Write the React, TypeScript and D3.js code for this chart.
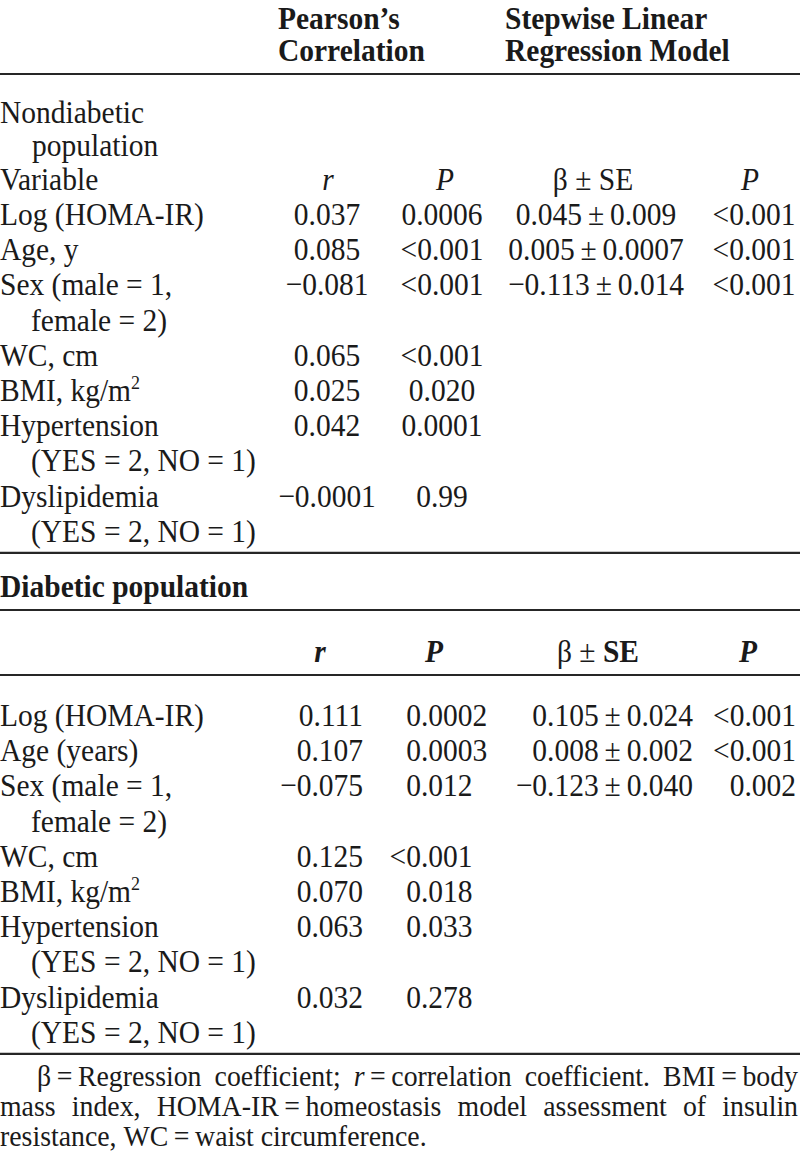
import React, { useMemo } from "react";
import * as d3 from "d3";

const FONT = "'Liberation Serif','Times New Roman',Times,serif";

// ---------- data ----------
const headerPearson = ["Pearson’s", "Correlation"];
const headerStepwise = ["Stepwise Linear", "Regression Model"];
const nonTitle = ["Nondiabetic", "population"];
const diaTitle = "Diabetic population";

const nonLabels: string[][] = [
  ["Log (HOMA-IR)"],
  ["Age, y"],
  ["Sex (male = 1,", "female = 2)"],
  ["WC, cm"],
  ["BMI, kg/m^2"],
  ["Hypertension", "(YES = 2, NO = 1)"],
  ["Dyslipidemia", "(YES = 2, NO = 1)"],
];
const nonR = ["0.037", "0.085", "−0.081", "0.065", "0.025", "0.042", "−0.0001"];
const nonP = ["0.0006", "<0.001", "<0.001", "<0.001", "0.020", "0.0001", "0.99"];
const nonBeta = ["0.045\u2009±\u20090.009", "0.005\u2009±\u20090.0007", "−0.113\u2009±\u20090.014", "", "", "", ""];
const nonBetaP = ["<0.001", "<0.001", "<0.001", "", "", "", ""];

const diaLabels: string[][] = [
  ["Log (HOMA-IR)"],
  ["Age (years)"],
  ["Sex (male = 1,", "female = 2)"],
  ["WC, cm"],
  ["BMI, kg/m^2"],
  ["Hypertension", "(YES = 2, NO = 1)"],
  ["Dyslipidemia", "(YES = 2, NO = 1)"],
];
const diaR = ["0.111", "0.107", "−0.075", "0.125", "0.070", "0.063", "0.032"];
const diaP = ["0.0002", "0.0003", "0.012", "<0.001", "0.018", "0.033", "0.278"];
const diaBeta = ["0.105\u2009±\u20090.024", "0.008\u2009±\u20090.002", "−0.123\u2009±\u20090.040", "", "", "", ""];
const diaBetaP = ["<0.001", "<0.001", "0.002", "", "", "", ""];

const footLine1 = ["β\u2009=\u2009Regression", "coefficient;", "*r*\u2009=\u2009correlation", "coefficient.", "BMI\u2009=\u2009body"];
const footLine2 = ["mass", "index,", "HOMA-IR\u2009=\u2009homeostasis", "model", "assessment", "of", "insulin"];
const footLine3 = ["resistance,", "WC\u2009=\u2009waist", "circumference."];

// ---------- layout ----------
const W = 800;
const H = 1158;
const FS = 29.5;
const FFS = 27.8;
const SY = 1.08;
const FSY = 1.03;
const L = 35.2;

const Y = {
  head1: 29,
  head2: 61,
  rule1: 74,
  nonTitle1: 123,
  nonTitle2: 156,
  variable: 190,
  nonBody: 225,
  diaTitle: 597,
  rule3: 610,
  diaHead: 662,
  rule4: 675,
  diaBody: 726,
  foot: 1086,
  footStep: 30,
};

type Seg = { t: string; i: boolean };
function parseToken(tok: string): Seg[] {
  const parts = tok.split("*");
  return parts.map((t, k) => ({ t, i: k % 2 === 1 })).filter((s) => s.t.length);
}

function T(props: any) {
  const { x, y, anchor = "start", weight, italic, size, sy = SY, children } = props;
  return (
    <text
      transform={`translate(${x},${y}) scale(1,${sy})`}
      textAnchor={anchor}
      fontWeight={weight}
      fontStyle={italic ? "italic" : undefined}
      fontSize={size}
    >
      {children}
    </text>
  );
}

function Label({ x, y, text }: { x: number; y: number; text: string }) {
  const [a, sup] = text.split("^");
  return (
    <T x={x} y={y}>
      {a}
      {sup ? (
        <tspan dy={-11} fontSize={18}>
          {sup}
        </tspan>
      ) : null}
    </T>
  );
}

function Decimal({ x, y, s }: { x: number; y: number; s: string }) {
  const i = s.indexOf(".");
  return (
    <g>
      <T x={x} y={y} anchor="end">{s.slice(0, i)}</T>
      <T x={x} y={y} anchor="start">{s.slice(i)}</T>
    </g>
  );
}

export default function App() {
  const measure = useMemo(() => {
    const c = document.createElement("canvas");
    const ctx = c.getContext("2d")!;
    return (segs: Seg[], size: number) =>
      d3.sum(segs, (s) => {
        ctx.font = `${s.i ? "italic " : ""}${size}px ${FONT}`;
        return ctx.measureText(s.t).width;
      });
  }, []);

  const justify = (tokens: string[], x0: number, x1: number, just: boolean) => {
    const segs = tokens.map(parseToken);
    const widths = segs.map((s) => measure(s, FFS));
    const spaceW = measure([{ t: " ", i: false }], FFS);
    const gap = just ? (x1 - x0 - d3.sum(widths)) / (tokens.length - 1) : spaceW;
    let x = x0;
    return segs.map((s, k) => {
      const pos = x;
      x += widths[k] + gap;
      return { segs: s, x: pos };
    });
  };

  const lineIdx = (labels: string[][]) => {
    let acc = 0;
    return labels.map((l) => {
      const v = acc;
      acc += l.length;
      return v;
    });
  };
  const nonIdx = lineIdx(nonLabels);
  const diaIdx = lineIdx(diaLabels);
  const nLines = d3.sum(nonLabels, (l) => l.length);

  const yNon = d3.scaleLinear().domain([0, 1]).range([Y.nonBody, Y.nonBody + L]);
  const yDia = d3.scaleLinear().domain([0, 1]).range([Y.diaBody, Y.diaBody + L]);
  const rule2 = yNon(nLines - 1) + 11;
  const rule5 = yDia(nLines - 1) + 11;

  const cols = ["r", "p", "b", "bp"];
  const nonCols = d3.scaleOrdinal<string, number>().domain(cols).range([327, 442, 596, 754]);
  const nonHead = d3.scaleOrdinal<string, number>().domain(cols).range([328, 445, 593, 750]);
  const diaHeadX = d3.scaleOrdinal<string, number>().domain(cols).range([320, 434, 598, 748]);
  const diaCols = d3.scaleOrdinal<string, number>().domain(cols).range([363, 421, 693, 796]);

  const f1 = justify(footLine1, 37, 798, true);
  const f2 = justify(footLine2, 0, 798, true);
  const f3 = justify(footLine3, 0, 798, false);

  const rule = (y: number, key: string) => (
    <line key={key} x1={0} x2={W} y1={y} y2={y} stroke="#262626" strokeWidth={2.2} />
  );

  const footRow = (items: { segs: Seg[]; x: number }[], y: number) =>
    items.map((it, k) => (
      <T key={k} x={it.x} y={y} size={FFS} sy={FSY}>
        {it.segs.map((s, j) => (
          <tspan key={j} fontStyle={s.i ? "italic" : undefined}>
            {s.t}
          </tspan>
        ))}
      </T>
    ));

  return (
    <div style={{ position: "absolute", left: 0, top: 0 }}>
      <svg width={W} height={H} style={{ display: "block", background: "#fff" }} fontFamily={FONT} fontSize={FS} fill="#1a1a1a">
        <T x={278} y={Y.head1} weight="bold">{headerPearson[0]}</T>
        <T x={278} y={Y.head2} weight="bold">{headerPearson[1]}</T>
        <T x={505} y={Y.head1} weight="bold">{headerStepwise[0]}</T>
        <T x={505} y={Y.head2} weight="bold">{headerStepwise[1]}</T>
        {rule(Y.rule1, "r1")}

        <T x={0} y={Y.nonTitle1}>{nonTitle[0]}</T>
        <T x={32} y={Y.nonTitle2}>{nonTitle[1]}</T>
        <T x={0} y={Y.variable}>Variable</T>
        <T x={nonHead("r")} y={Y.variable} anchor="middle" italic>r</T>
        <T x={nonHead("p")} y={Y.variable} anchor="middle" italic>P</T>
        <T x={nonHead("b")} y={Y.variable} anchor="middle">β ± SE</T>
        <T x={nonHead("bp")} y={Y.variable} anchor="middle" italic>P</T>

        {nonLabels.map((lab, i) => (
          <g key={"n" + i}>
            {lab.map((t, j) => (
              <Label key={j} x={j === 0 ? 0 : 31} y={yNon(nonIdx[i] + j)} text={t} />
            ))}
            <T x={nonCols("r")} y={yNon(nonIdx[i])} anchor="middle">{nonR[i]}</T>
            <T x={nonCols("p")} y={yNon(nonIdx[i])} anchor="middle">{nonP[i]}</T>
            {nonBeta[i] ? <T x={nonCols("b")} y={yNon(nonIdx[i])} anchor="middle">{nonBeta[i]}</T> : null}
            {nonBetaP[i] ? <T x={nonCols("bp")} y={yNon(nonIdx[i])} anchor="middle">{nonBetaP[i]}</T> : null}
          </g>
        ))}
        {rule(rule2, "r2")}

        <T x={0} y={Y.diaTitle} weight="bold">{diaTitle}</T>
        {rule(Y.rule3, "r3")}
        <T x={diaHeadX("r")} y={Y.diaHead} anchor="middle" italic weight="bold">r</T>
        <T x={diaHeadX("p")} y={Y.diaHead} anchor="middle" italic weight="bold">P</T>
        <T x={diaHeadX("b")} y={Y.diaHead} anchor="middle">
          β ± <tspan fontWeight="bold">SE</tspan>
        </T>
        <T x={diaHeadX("bp")} y={Y.diaHead} anchor="middle" italic weight="bold">P</T>
        {rule(Y.rule4, "r4")}

        {diaLabels.map((lab, i) => (
          <g key={"d" + i}>
            {lab.map((t, j) => (
              <Label key={j} x={j === 0 ? 0 : 31} y={yDia(diaIdx[i] + j)} text={t} />
            ))}
            <T x={diaCols("r")} y={yDia(diaIdx[i])} anchor="end">{diaR[i]}</T>
            <Decimal x={diaCols("p")} y={yDia(diaIdx[i])} s={diaP[i]} />
            {diaBeta[i] ? <T x={diaCols("b")} y={yDia(diaIdx[i])} anchor="end">{diaBeta[i]}</T> : null}
            {diaBetaP[i] ? <T x={diaCols("bp")} y={yDia(diaIdx[i])} anchor="end">{diaBetaP[i]}</T> : null}
          </g>
        ))}
        {rule(rule5, "r5")}

        {footRow(f1, Y.foot)}
        {footRow(f2, Y.foot + Y.footStep)}
        {footRow(f3, Y.foot + 2 * Y.footStep)}
      </svg>
    </div>
  );
}
